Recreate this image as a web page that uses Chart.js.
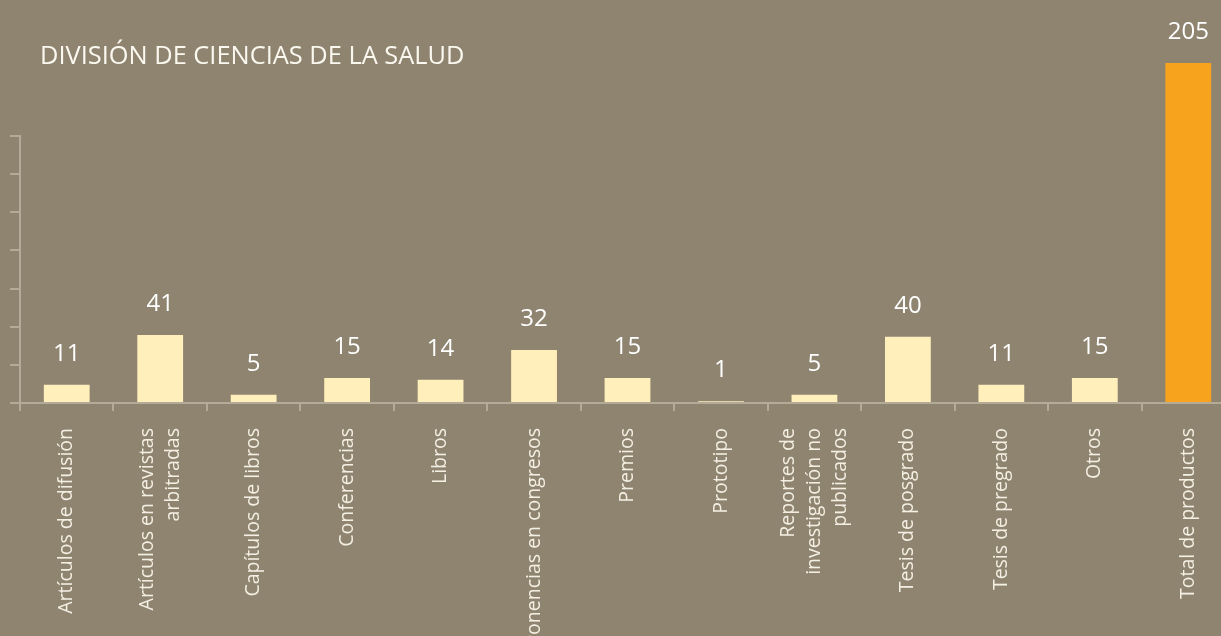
<!DOCTYPE html>
<html>
<head>
<meta charset="utf-8">
<script src="https://cdn.jsdelivr.net/npm/chart.js@4.4.1/dist/chart.umd.min.js"></script>
<style>
  html, body { margin: 0; padding: 0; background: #8f8470; overflow: hidden; }
  #wrap { position: relative; width: 1221px; height: 636px; overflow: hidden; }
  #box { position: absolute; left: 0; top: 0; width: 1235px; height: 636px; }
  #title {
    position: absolute; left: 40px; top: 37px;
    font-family: "Open Sans", sans-serif; font-size: 25.4px; color: #fbf8f0;
    z-index: 2;
  }
</style>
</head>
<body>
<div id="wrap">
  <div id="title">DIVISIÓN DE CIENCIAS DE LA SALUD</div>
  <div id="box"><canvas id="barChart"></canvas></div>
</div>
<script>
// Categories and values
var categories = [
    'Artículos de difusión',
    ['Artículos en revistas', 'arbitradas'],
    'Capítulos de libros',
    'Conferencias',
    'Libros',
    'Ponencias en congresos',
    'Premios',
    'Prototipo',
    ['Reportes de', 'investigación no', 'publicados'],
    'Tesis de posgrado',
    'Tesis de pregrado',
    'Otros',
    'Total de productos'
];
var values = [11, 41, 5, 15, 14, 32, 15, 1, 5, 40, 11, 15, 205];
var yTicks = [0, 23, 46, 69, 92, 115, 138, 161];

var axisColor = '#b4aa98';
var barColors = values.map(function (v, i) {
    return i === values.length - 1 ? '#f8a31e' : '#fff0bb';
});

// Draws the values, the rotated category names and the short y axis line
var extrasPlugin = {
    id: 'extras',
    afterDatasetsDraw: function (chart) {
        var ctx = chart.ctx;
        var meta = chart.getDatasetMeta(0);
        var x = chart.scales.x;
        var y = chart.scales.y;
        var area = chart.chartArea;
        ctx.save();

        ctx.fillStyle = '#ffffff';
        ctx.font = '24px "Open Sans", sans-serif';
        ctx.textAlign = 'center';
        ctx.textBaseline = 'middle';
        meta.data.forEach(function (bar, i) {
            ctx.fillText(String(values[i]), bar.x, bar.y - 31);
        });

        // category names, rotated, lines centred on the tick
        ctx.fillStyle = '#f4efe3';
        ctx.font = '19.5px "Open Sans", sans-serif';
        ctx.textAlign = 'right';
        ctx.textBaseline = 'middle';
        var lineH = 26;
        categories.forEach(function (label, i) {
            var lines = Array.isArray(label) ? label : [label];
            var px = x.getPixelForTick(i);
            lines.forEach(function (line, j) {
                var off = (j - (lines.length - 1) / 2) * lineH;
                ctx.save();
                ctx.translate(px + off, area.bottom + 25);
                ctx.rotate(-Math.PI / 2);
                ctx.fillText(line, 0, 0);
                ctx.restore();
            });
        });

        ctx.strokeStyle = axisColor;
        ctx.lineWidth = 2;
        ctx.beginPath();
        ctx.moveTo(area.left, y.getPixelForValue(yTicks[yTicks.length - 1]) - 1);
        ctx.lineTo(area.left, area.bottom + 8);
        ctx.moveTo(10, area.bottom);
        ctx.lineTo(area.left, area.bottom);
        ctx.stroke();
        ctx.restore();
    }
};

var ctx = document.getElementById('barChart').getContext('2d');
var barChart = new Chart(ctx, {
    type: 'bar',
    data: {
        labels: categories,
        datasets: [{
            data: values,
            backgroundColor: barColors,
            borderWidth: 0,
            barPercentage: 0.49,
            categoryPercentage: 1
        }]
    },
    options: {
        responsive: true,
        maintainAspectRatio: false,
        animation: false,
        layout: { padding: 0 },
        plugins: {
            legend: { display: false },
            title: { display: false },
            tooltip: { enabled: false }
        },
        scales: {
            x: {
                afterFit: function (s) { s.height = 233; },
                border: { color: axisColor, width: 2 },
                grid: {
                    offset: true,
                    drawOnChartArea: false,
                    color: axisColor,
                    lineWidth: 2,
                    tickLength: 8
                },
                ticks: { display: false, autoSkip: false }
            },
            y: {
                min: 0,
                max: 243,
                afterBuildTicks: function (s) {
                    s.ticks = yTicks.map(function (v) { return { value: v }; });
                },
                afterFit: function (s) { s.width = 20; },
                border: { display: false },
                grid: {
                    drawOnChartArea: false,
                    color: axisColor,
                    lineWidth: 2,
                    tickLength: 10
                },
                ticks: { display: false }
            }
        }
    },
    plugins: [extrasPlugin]
});
</script>
</body>
</html>
